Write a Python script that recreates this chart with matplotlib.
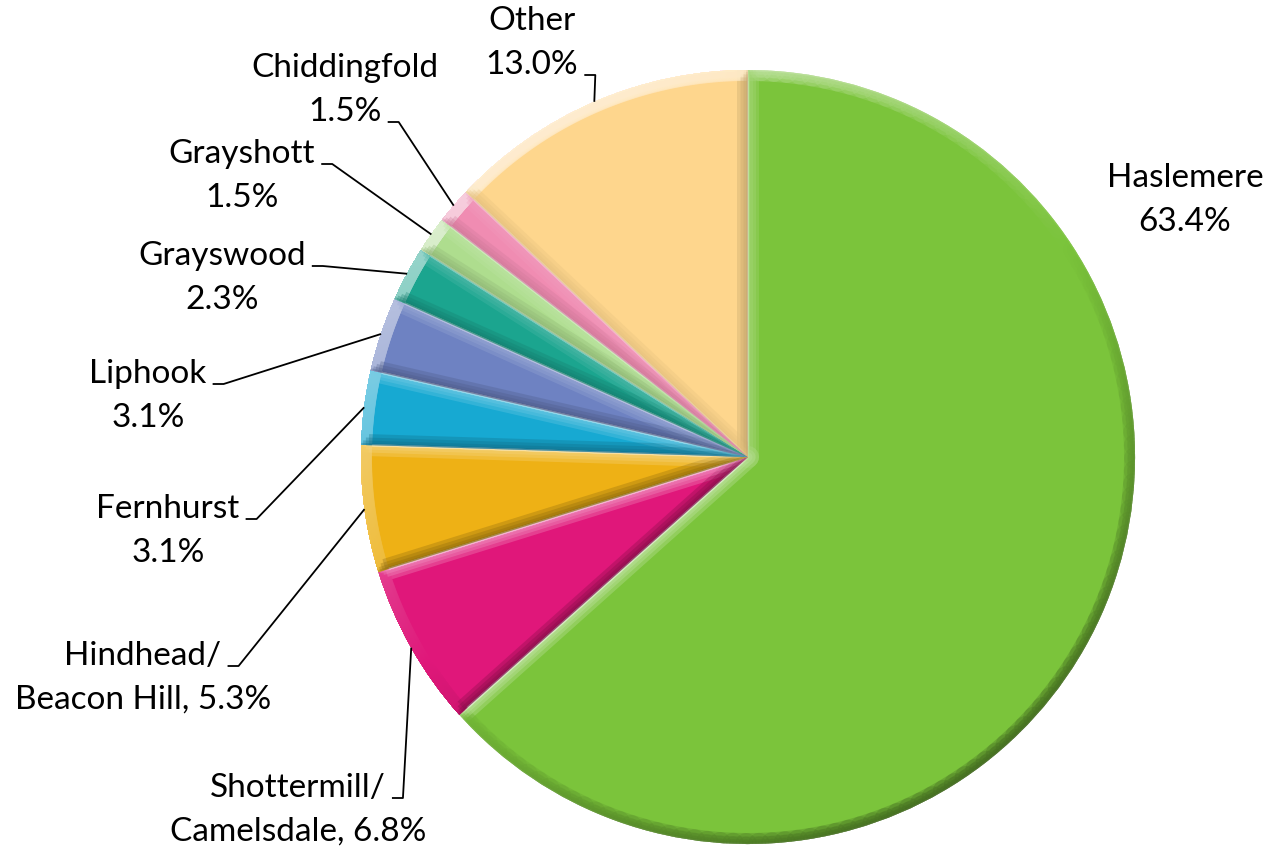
import numpy as np
import matplotlib
matplotlib.use("Agg")
import matplotlib.pyplot as plt
from matplotlib.colors import to_rgb
from matplotlib.collections import LineCollection

plt.rcParams['font.family'] = ['Lato', 'DejaVu Sans']

# data (share of respondents, %)
places = ["Haslemere", "Shottermill/\nCamelsdale", "Hindhead/\nBeacon Hill", "Fernhurst",
          "Liphook", "Grayswood", "Grayshott", "Chiddingfold", "Other"]
shares = [63.4, 6.8, 5.3, 3.1, 3.1, 2.3, 1.5, 1.5, 13.0]
colors = ["#7BC43B", "#E0177A", "#EEB115", "#17A9D2", "#6E82C2",
          "#1BA58F", "#AEDD8E", "#F08CB2", "#FED68D"]

# label layout (pixel centres, y from top) and which text line the leader starts from
label_pos = [(1185, 200), (298, 810), (143, 678), (168, 531), (148, 396),
             (222, 278), (242, 176), (345, 90), (532, 43)]
leader_line = [None, 0, 0, 0, 0, 0, 0, 1, 1]

W, H = 1272, 853
FS = 24
fig = plt.figure(figsize=(W / 100, H / 100), dpi=100)
ax = fig.add_axes([0, 0, 1, 1])

cx, cy = 748, H - 458
R = 387
explode = [16 / R] + [0] * (len(shares) - 1)

wedges, _ = ax.pie(shares, colors=colors, startangle=90, counterclock=False,
                   center=(cx, cy), radius=R, explode=explode,
                   wedgeprops=dict(edgecolor="white", linewidth=1.5))
ax.set_xlim(0, W)
ax.set_ylim(0, H)
ax.set_aspect("equal")
ax.axis("off")


def mix(c, t, amt):
    c = np.array(to_rgb(c))
    return tuple(np.clip(c + (np.array(to_rgb(t)) - c) * amt, 0, 1))


# bevel look: soft band along the inside of each slice edge, lit from the top left
light = np.array([-0.55, 0.83])
for w, c in zip(wedges, colors):
    th = np.deg2rad(np.linspace(w.theta1, w.theta2, 120))
    px = np.concatenate([[w.center[0]], w.center[0] + w.r * np.cos(th), [w.center[0]]])
    py = np.concatenate([[w.center[1]], w.center[1] + w.r * np.sin(th), [w.center[1]]])
    segs, cols = [], []
    for k in range(len(px) - 1):
        dx, dy = px[k + 1] - px[k], py[k + 1] - py[k]
        n = np.array([dy, -dx]) / np.hypot(dx, dy)
        s = float(n @ light)
        if s > 0:
            col = mix(c, "white", 0.6 * s)
        else:
            col = mix(c, "black", 0.45 * -s)
        segs.append([(px[k], py[k]), (px[k + 1], py[k + 1])])
        cols.append(col)
    for lw_px in (22, 15, 9, 4):
        lc = LineCollection(segs, colors=cols, linewidths=lw_px * 0.72,
                            capstyle="round", alpha=0.3)
        ax.add_collection(lc)
        lc.set_clip_path(w)
    edge = matplotlib.patches.Wedge(w.center, w.r, w.theta1, w.theta2,
                                    facecolor="none", edgecolor="white", linewidth=1.5)
    ax.add_patch(edge)

# labels and leader lines
fig.canvas.draw()
rend = fig.canvas.get_renderer()
gap = 44
for i, (w, name, val) in enumerate(zip(wedges, places, shares)):
    x, y = label_pos[i]
    y = H - y
    if "\n" in name:
        first, second = name.split("\n")
        lines = [first, f"{second}, {val:.1f}%"]
    else:
        lines = [name, f"{val:.1f}%"]
    for j, ln in enumerate(lines):
        ax.text(x, y + gap / 2 - j * gap, ln, ha="center", va="center",
                fontsize=FS, color="black")
    if leader_line[i] is None:
        continue
    j = leader_line[i]
    tmp = ax.text(x, y, lines[j], fontsize=FS)
    lw = tmp.get_window_extent(rend).width
    tmp.remove()
    sx = x + lw / 2 + 6
    sy = y + gap / 2 - j * gap - 11
    ang = np.deg2rad((w.theta1 + w.theta2) / 2)
    ex = w.center[0] + w.r * np.cos(ang)
    ey = w.center[1] + w.r * np.sin(ang)
    ax.plot([sx, sx + 11, ex], [sy, sy, ey], color="black", lw=1.3,
            solid_capstyle="butt")

fig.savefig("out.png", dpi=100)
